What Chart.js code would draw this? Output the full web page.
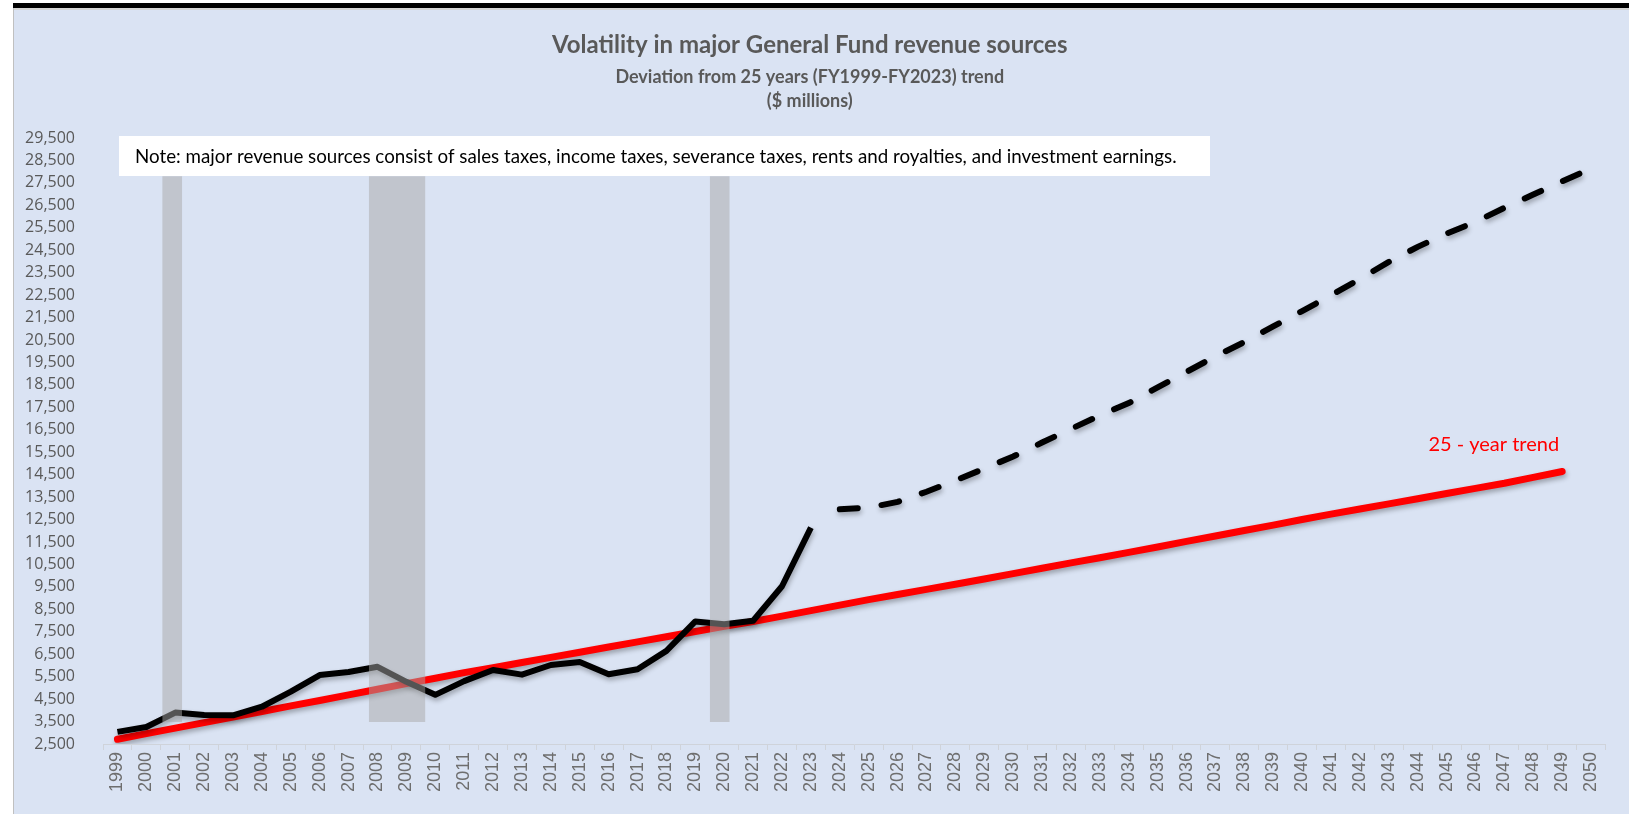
<!DOCTYPE html>
<html>
<head>
<meta charset="utf-8">
<title>Volatility in major General Fund revenue sources</title>
<script src="https://cdn.jsdelivr.net/npm/chart.js@4.4.1/dist/chart.umd.min.js"></script>
<style>
    html, body { margin: 0; padding: 0; background: #fff; width: 1629px; height: 814px; overflow: hidden; }
    .topbar { position: absolute; left: 13px; top: 3px; width: 1616px; height: 5px; background: #000; }
    .edge { position: absolute; left: 13px; top: 8px; width: 1px; height: 806px; background: #c0c0c0; }
    .frame { position: absolute; left: 14px; top: 10px; width: 1615px; height: 804px; background: #dae3f3; }
    .line { position: absolute; left: 14px; top: 8px; width: 1615px; height: 2px; background: #d4d4d4; }
</style>
</head>
<body>
<div class="topbar"></div>
<div class="line"></div>
<div class="edge"></div>
<div class="frame"><canvas id="chart"></canvas></div>
<script>
// ---- data ----
const years = ['1999', '2000', '2001', '2002', '2003', '2004', '2005', '2006', '2007', '2008',
    '2009', '2010', '2011', '2012', '2013', '2014', '2015', '2016', '2017', '2018',
    '2019', '2020', '2021', '2022', '2023', '2024', '2025', '2026', '2027', '2028',
    '2029', '2030', '2031', '2032', '2033', '2034', '2035', '2036', '2037', '2038',
    '2039', '2040', '2041', '2042', '2043', '2044', '2045', '2046', '2047', '2048',
    '2049', '2050'];

// actual revenue FY1999-FY2023
const actual = [3040, 3260, 3900, 3790, 3780, 4160, 4830, 5570, 5710, 5940,
    5270, 4690, 5300, 5800, 5590, 6020, 6150, 5610, 5830, 6650,
    7960, 7840, 7990, 9530, 12140];

// projection FY2024-FY2050 (dashed)
const projection = [12960, 13030, 13290, 13740, 14240, 14770, 15310, 15930, 16540, 17140,
    17690, 18390, 19080, 19770, 20410, 21110, 21790, 22490, 23220, 23980,
    24650, 25240, 25760, 26390, 26980, 27570, 28140];

// 25 - year trend FY1999-FY2049
const trend = [2710, 2960, 3210, 3450, 3700, 3950, 4200, 4440, 4690, 4940,
    5190, 5430, 5680, 5900, 6130, 6360, 6590, 6820, 7050, 7280,
    7510, 7740, 7960, 8200, 8440, 8690, 8930, 9160, 9390, 9620,
    9850, 10090, 10330, 10570, 10800, 11040, 11280, 11530, 11770, 12010,
    12250, 12500, 12740, 12970, 13200, 13430, 13660, 13890, 14120, 14380,
    14640];

// recession shading (in fiscal-year units) and its vertical band
const recessionStart = [2000.55, 2007.7, 2019.5];
const recessionEnd = [2001.24, 2009.66, 2020.19];
const bandLow = 3480;
const bandHigh = 27800;

const yMin = 2500;
const yMax = 29500;
const yStep = 1000;

const titleText = 'Volatility in major General Fund revenue sources';
const subtitleText = ['Deviation from 25 years (FY1999-FY2023) trend', '($ millions)'];
const noteText = 'Note: major revenue sources consist of sales taxes, income taxes, severance taxes, rents and royalties, and investment earnings.';
const trendLabel = '25 - year trend';

// ---- helpers ----
const padTo = (arr, before, total) => {
    const out = new Array(before).fill(null).concat(arr);
    while (out.length < total) out.push(null);
    return out;
};

const recessionSets = recessionStart.map((s, i) => ({
    type: 'line',
    xAxisID: 'xr',
    data: [{ x: s, y: bandHigh }, { x: recessionEnd[i], y: bandHigh }],
    borderWidth: 0,
    pointRadius: 0,
    backgroundColor: 'rgba(168,167,168,0.5)',
    fill: { value: bandLow },
    order: 0,
}));

// drop shadow under the lines (like the Excel effect)
const lineShadow = {
    id: 'lineShadow',
    beforeDatasetDraw(chart, args) {
        if (args.meta.xAxisID === 'xr') return;
        const { ctx } = chart;
        ctx.save();
        ctx.shadowColor = 'rgba(0,0,0,0.3)';
        ctx.shadowBlur = 5;
        ctx.shadowOffsetX = 1;
        ctx.shadowOffsetY = 3;
    },
    afterDatasetDraw(chart, args) {
        if (args.meta.xAxisID === 'xr') return;
        chart.ctx.restore();
    },
};

// note box + trend label
const annotations = {
    id: 'annotations',
    afterDraw(chart) {
        const { ctx, chartArea } = chart;
        const bx = chartArea.left + 16;
        const by = chartArea.top - 2;
        const bw = 1091;
        const bh = 40;
        ctx.save();
        ctx.fillStyle = '#ffffff';
        ctx.fillRect(bx, by, bw, bh);
        let size = 21;
        ctx.font = `${size}px Lato`;
        while (ctx.measureText(noteText).width > 1050 && size > 10) {
            size -= 0.25;
            ctx.font = `${size}px Lato`;
        }
        ctx.fillStyle = '#000000';
        ctx.textBaseline = 'middle';
        ctx.textAlign = 'left';
        ctx.fillText(noteText, bx + 16, by + bh / 2 + 1);

        // label at the end of the trend line
        const meta = chart.getDatasetMeta(chart.data.datasets.findIndex(d => d.label === 'trend'));
        const last = meta.data[trend.length - 1];
        ctx.fillStyle = '#ff0000';
        ctx.font = '20px Lato';
        ctx.textAlign = 'right';
        ctx.fillText(trendLabel, last.x - 3, last.y - 27);
        ctx.restore();
    },
};

new Chart(document.getElementById('chart'), {
    type: 'line',
    data: {
        labels: years,
        datasets: [
            ...recessionSets,
            {
                label: 'actual',
                data: padTo(actual, 0, years.length),
                borderColor: '#000000',
                borderWidth: 6,
                borderJoinStyle: 'round',
                pointRadius: 0,
                fill: false,
                order: 1,
            },
            {
                label: 'projection',
                data: padTo(projection, actual.length, years.length),
                borderColor: '#000000',
                borderWidth: 6,
                borderDash: [18, 24],
                borderCapStyle: 'round',
                pointRadius: 0,
                fill: false,
                order: 2,
            },
            {
                label: 'trend',
                data: padTo(trend, 0, years.length),
                borderColor: '#ff0000',
                borderWidth: 7,
                borderJoinStyle: 'round',
                borderCapStyle: 'round',
                pointRadius: 0,
                fill: false,
                order: 3,
            },
        ],
    },
    options: {
        responsive: true,
        maintainAspectRatio: false,
        animation: false,
        layout: { padding: { left: 0, right: 23.5, top: 0, bottom: 0 } },
        plugins: {
            legend: { display: false },
            tooltip: { enabled: false },
            title: {
                display: true,
                text: titleText,
                color: '#595959',
                font: { family: 'Lato', size: 24, weight: 'bold', lineHeight: 1.2 },
                padding: { top: 20.6, bottom: 4 },
            },
            subtitle: {
                display: true,
                text: subtitleText,
                color: '#595959',
                font: { family: 'Lato', size: 18, weight: 'bold', lineHeight: 1.35 },
                padding: { top: 1.5, bottom: 24.5 },
            },
        },
        scales: {
            x: {
                type: 'category',
                offset: true,
                grid: {
                    offset: true,
                    drawOnChartArea: false,
                    drawTicks: true,
                    tickLength: 6,
                    color: '#cfd3da',
                },
                border: { color: '#cfd3da' },
                ticks: {
                    autoSkip: false,
                    maxRotation: 90,
                    minRotation: 90,
                    padding: 2,
                    color: '#6e6e6e',
                    font: { family: 'Liberation Sans', size: 18 },
                },
                afterFit(scale) { scale.height = 70; },
            },
            xr: {
                type: 'linear',
                display: false,
                min: 1998.5,
                max: 2050.5,
            },
            y: {
                min: yMin,
                max: yMax,
                grid: { display: false },
                border: { display: false },
                ticks: {
                    stepSize: yStep,
                    padding: 20,
                    color: '#595959',
                    font: { family: 'Open Sans', size: 16 },
                    callback: v => v.toLocaleString('en-US'),
                },
                afterFit(scale) { scale.width = 89; },
            },
        },
    },
    plugins: [lineShadow, annotations],
});
</script>
</body>
</html>
